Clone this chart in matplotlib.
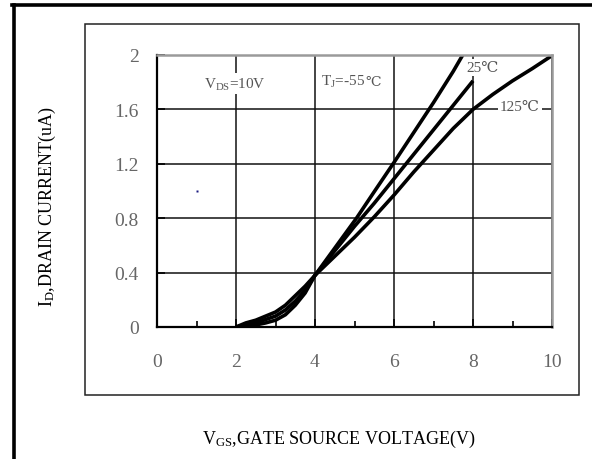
import matplotlib.pyplot as plt
from matplotlib.lines import Line2D
from matplotlib.patches import Rectangle

plt.rcParams['font.family'] = ['Liberation Serif', 'DejaVu Serif']
plt.rcParams['mathtext.fontset'] = 'custom'
plt.rcParams['mathtext.rm'] = 'Liberation Serif'
plt.rcParams['mathtext.it'] = 'Liberation Serif'

# drain current vs gate-source voltage
vgs_m55 = [2.0, 2.25, 2.5, 2.75, 3.0, 3.25, 3.5, 3.75, 4.0, 4.5, 5.05, 5.5, 6.0, 6.5, 7.0, 7.5, 7.74]
id_m55 = [0.0, 0.005, 0.015, 0.03, 0.05, 0.09, 0.16, 0.25, 0.38, 0.58, 0.80, 0.995, 1.21, 1.43, 1.65, 1.88, 2.0]

vgs_25 = [2.0, 2.25, 2.5, 2.75, 3.0, 3.25, 3.5, 3.75, 4.0, 4.5, 5.0, 5.5, 6.0, 6.5, 7.0, 7.5, 8.0]
id_25 = [0.0, 0.015, 0.03, 0.055, 0.08, 0.125, 0.19, 0.27, 0.38, 0.56, 0.74, 0.91, 1.09, 1.27, 1.45, 1.63, 1.81]

vgs_125 = [2.0, 2.25, 2.5, 2.75, 3.0, 3.25, 3.5, 3.75, 4.0, 4.5, 5.0, 5.5, 6.0, 6.5, 7.0, 7.5, 8.0, 8.5, 9.0, 9.5, 9.97]
id_125 = [0.0, 0.03, 0.05, 0.08, 0.11, 0.16, 0.23, 0.30, 0.38, 0.52, 0.66, 0.81, 0.97, 1.14, 1.30, 1.46, 1.60, 1.71, 1.81, 1.90, 1.99]

xticks = [0, 2, 4, 6, 8, 10]
yticks = [0, 0.4, 0.8, 1.2, 1.6, 2]
ytick_labels = ['0', '0.4', '0.8', '1.2', '1.6', '2']

fig = plt.figure(figsize=(5.92, 4.6), dpi=100)

# outer frame (left + top) and inner box
fig.add_artist(Line2D([13.5 / 592, 13.5 / 592], [0, 1 - 5.5 / 460], transform=fig.transFigure,
                      color='black', lw=2.6))
fig.add_artist(Line2D([12 / 592, 1], [1 - 5.5 / 460, 1 - 5.5 / 460], transform=fig.transFigure,
                      color='black', lw=2.6))
fig.add_artist(Rectangle((85 / 592, 64 / 460), 494 / 592, 371 / 460, transform=fig.transFigure,
                         fill=False, edgecolor='#222222', lw=1.1))

ax = fig.add_axes([157 / 592, 132 / 460, 395 / 592, 272 / 460])
ax.set_xlim(0, 10)
ax.set_ylim(0, 2)

ax.grid(True, color='#111111', lw=1.1)
ax.set_axisbelow(True)

for v, i in [(vgs_m55, id_m55), (vgs_25, id_25), (vgs_125, id_125)]:
    ax.plot(v, i, color='black', lw=2.6, solid_capstyle='butt', zorder=2.5)

# stray dot in the original scan
ax.plot([1], [1], marker='s', ms=1.6, color='#1a1a80', mec='none')

ax.set_xticks(xticks)
ax.set_yticks(yticks)
ax.set_yticklabels(ytick_labels)
ax.set_xticks([1, 3, 5, 7, 9], minor=True)
ax.tick_params(axis='both', which='major', direction='in', length=6, width=1.2,
               labelsize=14, labelcolor='#666666')
ax.tick_params(axis='x', which='major', pad=19)
ax.tick_params(axis='y', which='major', pad=13)
ax.tick_params(axis='x', which='minor', direction='in', length=4, width=1.2)

for s in ['left', 'bottom']:
    ax.spines[s].set_color('black')
    ax.spines[s].set_linewidth(1.6)
for s in ['top', 'right']:
    ax.spines[s].set_color('#9a9a9a')
    ax.spines[s].set_linewidth(1.8)

box = dict(facecolor='white', edgecolor='none', pad=1.5)
ax.text(1.96, 1.79, r'V$_{\mathrm{DS}}$=10V', fontsize=11, color='#555555',
        ha='center', va='center', bbox=box, zorder=4)
tj = ax.text(4.16, 1.81, r'T$_{\mathrm{J}}$=-55', fontsize=11, color='#555555',
             ha='left', va='center', zorder=4)
ax.annotate('\u2103', xy=(1, 0.5), xycoords=tj, fontsize=10, color='#555555',
            ha='left', va='center', family=['DejaVu Serif'])
ax.text(8.23, 1.91, '25\u2103', fontsize=11, color='#555555',
        ha='center', va='center', bbox=box, zorder=4)
ax.text(9.19, 1.62, '125\u2103', fontsize=11, color='#555555',
        ha='center', va='center', bbox=box, zorder=4)

fig.text(47 / 592, 1 - 207 / 460, r'I$_{\mathrm{D}}$,DRAIN CURRENT(uA)', rotation=90,
         fontsize=13, ha='center', va='center')
fig.text(339 / 592, 1 - 439 / 460, r'V$_{\mathrm{GS}}$,GATE SOURCE VOLTAGE(V)',
         fontsize=13, ha='center', va='center')

fig.savefig('out.png', dpi=100)
